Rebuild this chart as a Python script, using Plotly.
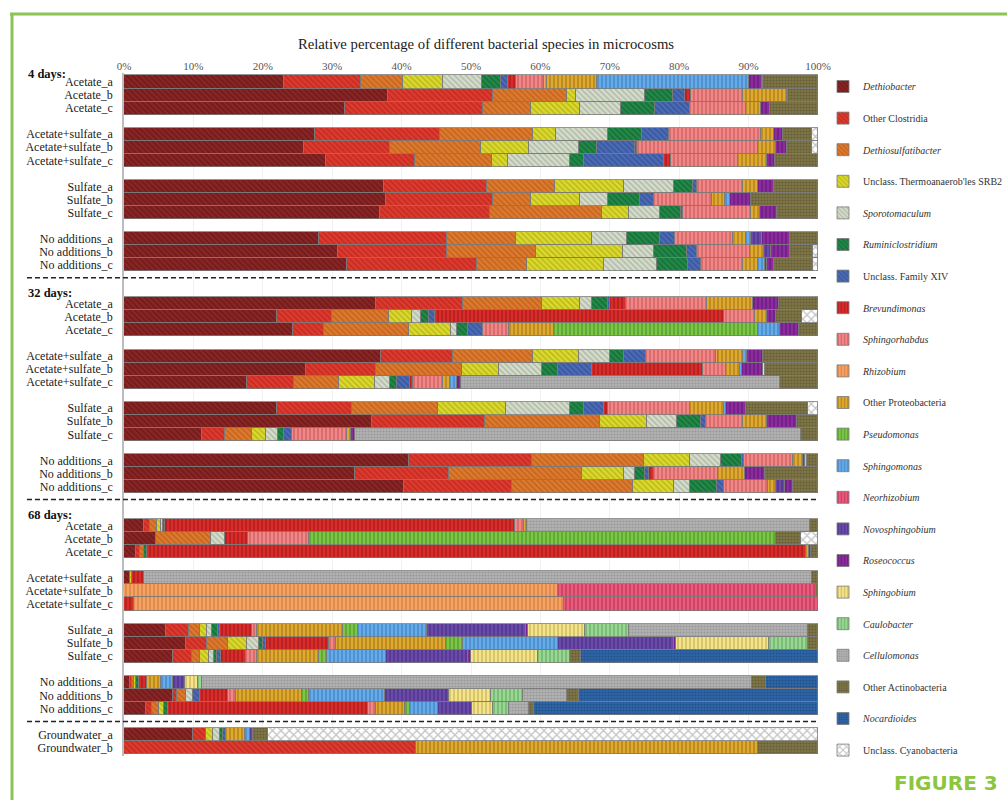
import plotly.graph_objects as go

# ---------------------------------------------------------------- data
row_labels = [
    "Acetate_a", "Acetate_b", "Acetate_c",
    "Acetate+sulfate_a", "Acetate+sulfate_b", "Acetate+sulfate_c",
    "Sulfate_a", "Sulfate_b", "Sulfate_c",
    "No additions_a", "No additions_b", "No additions_c",
    "Acetate_a", "Acetate_b", "Acetate_c",
    "Acetate+sulfate_a", "Acetate+sulfate_b", "Acetate+sulfate_c",
    "Sulfate_a", "Sulfate_b", "Sulfate_c",
    "No additions_a", "No additions_b", "No additions_c",
    "Acetate_a", "Acetate_b", "Acetate_c",
    "Acetate+sulfate_a", "Acetate+sulfate_b", "Acetate+sulfate_c",
    "Sulfate_a", "Sulfate_b", "Sulfate_c",
    "No additions_a", "No additions_b", "No additions_c",
    "Groundwater_a", "Groundwater_b",
]
section_headers = ["4 days:", "32 days:", "68 days:"]
percent_ticks = [0, 10, 20, 30, 40, 50, 60, 70, 80, 90, 100]

species_names = [
    "<i>Dethiobacter</i>", "Other Clostridia", "<i>Dethiosulfatibacter</i>",
    "Unclass. Thermoanaerob'les SRB2", "<i>Sporotomaculum</i>",
    "<i>Ruminiclostridium</i>", "Unclass. Family XIV", "<i>Brevundimonas</i>",
    "<i>Sphingorhabdus</i>", "<i>Rhizobium</i>", "Other Proteobacteria",
    "<i>Pseudomonas</i>", "<i>Sphingomonas</i>", "<i>Neorhizobium</i>",
    "<i>Novosphingobium</i>", "<i>Roseococcus</i>", "<i>Sphingobium</i>",
    "<i>Caulobacter</i>", "<i>Cellulomonas</i>", "Other Actinobacteria",
    "<i>Nocardioides</i>", "Unclass. Cyanobacteria",
]

# relative abundance (%) per row, in row_labels order
dethiobacter = [23.0, 38.1, 31.8, 27.5, 25.9, 29.1, 37.5, 37.8, 36.9, 28.1, 30.9, 32.2,
                36.3, 22.1, 24.3, 37.1, 26.2, 17.7, 22.1, 35.8, 11.3, 41.0, 33.3, 40.3,
                2.9, 4.6, 1.7, 0.8, 0, 0, 6.1, 9.0, 7.0, 0.8, 7.0, 3.2,
                10.0, 0]
other_clostridia = [11.1, 15.0, 19.9, 18.1, 12.4, 12.9, 14.8, 15.3, 15.9, 18.4, 15.6, 18.6,
                    12.5, 7.8, 4.5, 10.3, 10.1, 6.8, 10.7, 16.2, 3.3, 17.8, 13.5, 15.6,
                    0.9, 0, 0.6, 0, 0, 0, 3.2, 2.9, 2.8, 0.4, 0.7, 0.9,
                    1.8, 42.1]
dethiosulfatibacter = [6.1, 10.7, 6.9, 13.3, 13.1, 11.0, 9.8, 5.5, 16.1, 10.0, 12.9, 7.2,
                       11.4, 8.3, 12.3, 11.5, 12.4, 6.5, 12.4, 16.6, 3.9, 16.1, 19.2, 17.5,
                       1.0, 8.0, 0.6, 0, 0, 0, 1.6, 3.1, 1.2, 0.3, 1.2, 1.0,
                       0, 0]
srb2 = [5.7, 1.3, 7.1, 3.3, 7.0, 2.3, 10.0, 7.1, 3.9, 10.9, 12.5, 11.1,
        5.5, 3.3, 6.0, 6.7, 5.4, 5.2, 9.8, 6.8, 2.0, 6.6, 6.0, 5.8,
        0.6, 0, 0, 0.3, 0, 0, 1.0, 2.7, 1.3, 0.3, 0, 0.7,
        1.0, 0]
sporotomaculum = [5.7, 10.0, 5.9, 7.5, 7.2, 8.9, 7.2, 4.0, 4.4, 5.1, 4.5, 7.7,
                  1.8, 1.3, 0.9, 4.5, 6.1, 2.1, 9.2, 4.3, 1.7, 4.5, 1.6, 2.4,
                  0.2, 2.0, 0, 0, 0, 0, 0.8, 1.7, 0.7, 0, 1.1, 0,
                  1.1, 0]
ruminiclostridium = [2.7, 4.0, 4.9, 4.9, 2.6, 2.1, 2.7, 4.6, 3.1, 4.8, 4.7, 4.5,
                     2.3, 1.2, 1.5, 2.0, 2.3, 1.0, 2.1, 3.4, 0.8, 3.0, 1.5, 3.8,
                     0, 0, 0.4, 0, 0, 0, 0.9, 0.7, 0.4, 0.4, 0, 0.6,
                     0.3, 0]
family_xiv = [1.0, 1.8, 5.1, 4.0, 5.4, 11.5, 0.6, 2.0, 0.3, 2.1, 1.5, 1.8,
              0.3, 0.8, 2.2, 3.1, 4.9, 1.9, 2.9, 0.8, 1.2, 0.3, 0.5, 1.1,
              0.3, 0, 0, 0, 0, 0, 0.3, 0.4, 0.6, 0, 0.9, 0,
              0.5, 0]
brevundimonas = [1.2, 0.8, 0, 0, 0.3, 1.0, 0, 0, 0, 0, 0, 0,
                 2.2, 41.6, 0, 0, 16.0, 0.4, 0.5, 0, 0, 0, 0.8, 0,
                 50.4, 3.2, 95.0, 1.8, 0, 1.4, 4.5, 9.1, 3.6, 1.1, 4.1, 28.8,
                 0, 0]
sphingorhabdus = [4.0, 7.5, 8.0, 13.2, 17.5, 9.7, 6.6, 8.4, 9.7, 8.3, 7.6, 6.1,
                  11.7, 4.5, 3.8, 10.1, 3.3, 4.4, 11.9, 5.3, 8.0, 7.1, 9.2, 6.3,
                  1.4, 8.9, 0, 0, 0, 0, 0.8, 0.9, 1.5, 0, 1.2, 1.1,
                  0, 0]
rhizobium = [0.4, 0, 0, 0, 0, 0, 0, 0, 0, 0, 0, 0,
             0, 0, 0, 0.3, 0, 0, 0, 0, 0, 0, 0, 0,
             0, 0, 0, 0, 62.5, 62.0, 0, 0, 0, 0, 0, 0,
             0, 0]
other_proteobacteria = [7.3, 6.3, 2.2, 1.9, 2.6, 4.1, 2.1, 1.9, 1.4, 1.9, 2.0, 2.2,
                        6.6, 1.7, 6.4, 3.6, 2.0, 1.0, 4.8, 3.5, 0.5, 1.5, 3.9, 1.2,
                        0.3, 0, 0.4, 0, 0, 0, 12.3, 15.9, 9.0, 2.1, 9.4, 4.2,
                        2.8, 49.2]
pseudomonas = [0, 0, 0, 0, 0, 0, 0, 0, 0, 0, 0, 0,
               0, 0, 29.5, 0, 0, 0, 0, 0, 0, 0, 0, 0,
               0, 67.3, 0, 0, 0, 0, 2.2, 2.4, 1.2, 0, 1.0, 0.7,
               0, 0]
sphingomonas = [21.8, 0, 0, 0, 0, 0, 0, 0.7, 0, 0.8, 0, 0.9,
                0, 0, 3.1, 0.5, 0.4, 1.0, 0.4, 0, 0, 0, 0, 0,
                0, 0, 0, 0, 0, 0, 9.9, 13.7, 8.5, 1.6, 11.0, 4.0,
                0.6, 0]
neorhizobium = [0, 0, 0, 0, 0, 0, 0, 0, 0, 0, 0, 0,
                0, 0, 0, 0, 0, 0, 0, 0, 0, 0, 0, 0,
                0, 0, 0, 0, 37.2, 36.6, 0, 0, 0, 0, 0, 0,
                0, 0]
novosphingobium = [0, 0, 0, 0, 0, 0, 0, 0, 0, 1.5, 1.0, 0.4,
                   0, 0, 0, 0, 0, 0, 0, 0, 0, 0, 0, 1.2,
                   0, 0, 0.3, 0, 0, 0, 14.3, 16.8, 11.7, 1.8, 9.3, 4.9,
                   0.5, 0]
roseococcus = [1.9, 0, 1.3, 1.2, 1.6, 1.2, 2.3, 3.1, 2.4, 4.1, 2.8, 0.9,
               3.8, 1.4, 2.8, 2.4, 3.0, 0.6, 2.8, 4.3, 0.6, 0.2, 2.9, 1.2,
               0, 0, 0, 0, 0, 0, 0.3, 0.2, 0.5, 0, 0, 0,
               0, 0]
sphingobium = [0.2, 0.2, 0, 0, 0, 0, 0, 0, 0, 0, 0, 0,
               0, 0, 0, 0, 0.3, 0, 0, 0, 0, 0.3, 0, 0,
               0, 0, 0, 0, 0, 0, 8.2, 13.5, 9.7, 1.9, 6.0, 3.0,
               0, 0]
caulobacter = [0, 0, 0, 0, 0, 0, 0, 0, 0, 0, 0, 0,
               0, 0, 0, 0, 0, 0, 0, 0, 0, 0, 0, 0,
               0, 0, 0, 0, 0, 0, 6.3, 5.5, 4.6, 0.6, 4.6, 2.4,
               0, 0]
cellulomonas = [0, 0, 0, 0, 0, 0, 0, 0, 0, 0, 0, 0,
                0, 0, 0, 0, 0, 45.9, 0, 0, 64.2, 0, 0, 0,
                40.8, 0, 0, 96.2, 0, 0, 25.9, 0, 0, 79.2, 6.4, 2.9,
                0, 0]
other_actinobacteria = [7.9, 4.3, 6.9, 4.3, 3.6, 6.2, 6.4, 9.6, 5.9, 4.0, 3.3, 5.7,
                        5.6, 3.7, 2.7, 7.9, 7.6, 5.5, 9.0, 3.0, 2.5, 1.6, 7.6, 3.6,
                        1.2, 3.6, 1.0, 0.9, 0.3, 0, 1.4, 1.5, 1.5, 2.0, 1.6, 0.7,
                        2.2, 8.7]
nocardioides = [0, 0, 0, 0, 0, 0, 0, 0, 0, 0, 0, 0,
                0, 0, 0, 0, 0, 0, 0, 0, 0, 0, 0, 0,
                0, 0, 0, 0, 0, 0, 0, 0, 34.2, 7.5, 34.5, 40.9,
                0, 0]
cyanobacteria = [0, 0, 0, 0.8, 0.8, 0, 0, 0, 0, 0, 0.7, 0.7,
                 0, 2.3, 0, 0, 0, 0, 1.4, 0, 0, 0, 0, 0,
                 0, 2.4, 0, 0, 0, 0, 0, 0, 0, 0, 0, 0,
                 79.2, 0]

species_values = [
    dethiobacter, other_clostridia, dethiosulfatibacter, srb2, sporotomaculum,
    ruminiclostridium, family_xiv, brevundimonas, sphingorhabdus, rhizobium,
    other_proteobacteria, pseudomonas, sphingomonas, neorhizobium,
    novosphingobium, roseococcus, sphingobium, caulobacter, cellulomonas,
    other_actinobacteria, nocardioides, cyanobacteria,
]

# ---------------------------------------------------------------- styling
fill_colors = [
    "#8a2525", "#df3a2e", "#df7a2c", "#dcda2c", "#d6ddcc", "#218a48", "#4a6cb6",
    "#db2c2c", "#f38686", "#f8a262", "#e0aa2e", "#7cc846", "#66acea", "#ec5a7c",
    "#6a4aaa", "#8c2c9e", "#f6e48a", "#9ad892", "#b2b2b2", "#807648", "#2e66a8",
    "#ffffff",
]
stripe_colors = [
    "#561010", "#a41e18", "#a4501a", "#9a9810", "#8c9a82", "#0f5029", "#2a4080",
    "#8a1414", "#b04848", "#b86a32", "#8a6010", "#3e7a20", "#2e6aa8", "#a02848",
    "#3a2470", "#50106a", "#a89840", "#509058", "#7e7e7e", "#4a4228", "#173c6c",
    "#8c8c8c",
]
fill_shapes = ["\\"] * 7 + ["|"] * 11 + ["."] * 3 + ["x"]
shape_sizes = [4] * 7 + [4] * 11 + [3] * 3 + [6]

W, H = 1007, 800
ML, MR, MT, MB = 124, 189, 73, 44
PW, PH = W - ML - MR, H - MT - MB


def paper_x(px):
    return (px - ML) / PW


def paper_y(py):
    return 1 - (py - MT) / PH


# row slots: three treatment sections of four triplets, then groundwater
row_slots = []
for section in range(3):
    for group in range(4):
        for rep in range(3):
            row_slots.append(section * 17 + group * 4 + rep)
row_slots += [50, 51]
separator_slots = [15, 32, 49]
header_slots = [-0.58, 16.15, 33.15]

serif = "Liberation Serif"

fig = go.Figure()
for i, (name, vals) in enumerate(zip(species_names, species_values)):
    fig.add_trace(go.Bar(
        x=[v if v else None for v in vals],
        y=row_slots,
        orientation="h",
        name=name,
        legendgroup=f"g{i}",
        width=1.0,
        marker=dict(
            color=fill_colors[i],
            line=dict(color="#7a7a7a", width=0.8),
            pattern=dict(shape=fill_shapes[i], fillmode="overlay",
                         fgcolor=stripe_colors[i], bgcolor=fill_colors[i],
                         size=shape_sizes[i], solidity=0.4),
        ),
        hoverinfo="skip",
    ))

shapes = []
for s in separator_slots:
    shapes.append(dict(type="line", xref="paper", yref="y",
                       x0=paper_x(27), x1=1.0, y0=s, y1=s,
                       line=dict(color="#222222", width=1.5, dash="5px,3px")))
# green frame (top and left edges)
frame = "#8cc456"
shapes.append(dict(type="line", xref="paper", yref="paper",
                   x0=paper_x(10), x1=paper_x(1007), y0=paper_y(14), y1=paper_y(14),
                   line=dict(color=frame, width=3)))
shapes.append(dict(type="line", xref="paper", yref="paper",
                   x0=paper_x(12), x1=paper_x(12), y0=paper_y(13), y1=paper_y(800),
                   line=dict(color=frame, width=3)))

annotations = []
for text, slot in zip(section_headers, header_slots):
    annotations.append(dict(text=f"<b>{text}</b>", xref="paper", yref="y",
                            x=paper_x(26), y=slot, xanchor="left", yanchor="middle",
                            showarrow=False,
                            font=dict(family=serif, size=12.5, color="#111111")))
annotations.append(dict(text="<b>FIGURE 3</b>", xref="paper", yref="paper",
                        x=paper_x(1000), y=paper_y(783), xanchor="right",
                        yanchor="middle", showarrow=False,
                        font=dict(family="DejaVu Sans", size=20, color="#8cc63f")))

fig.update_layout(
    width=W, height=H,
    margin=dict(l=ML, r=MR, t=MT, b=MB, pad=0, autoexpand=False),
    paper_bgcolor="white", plot_bgcolor="white",
    barmode="stack", bargap=0,
    title=dict(text="Relative percentage of different bacterial species in microcosms",
               x=486 / W, xanchor="center", y=1 - 44 / H, yanchor="middle",
               font=dict(family=serif, size=14.7, color="#1a1a1a")),
    xaxis=dict(side="top", range=[0, 100], tickvals=percent_ticks,
               ticktext=[f"{t}%" for t in percent_ticks],
               tickfont=dict(family=serif, size=11, color="#555555"),
               showgrid=True, gridcolor="#f0f0f0", gridwidth=1,
               zeroline=False, showline=False, ticks=""),
    yaxis=dict(range=[51.65, -0.69], tickvals=row_slots, ticktext=row_labels,
               tickfont=dict(family=serif, size=12, color="#1a1a1a"),
               showgrid=False, zeroline=False, showline=True,
               linecolor="#bdbdbd", linewidth=1.5, ticks="", ticklabelstandoff=7),
    legend=dict(x=paper_x(823), xanchor="left", y=paper_y(72), yanchor="top",
                traceorder="grouped", tracegroupgap=12.6, maxheight=790,
                font=dict(family=serif, size=10, color="#333333"),
                bgcolor="rgba(0,0,0,0)"),
    shapes=shapes,
    annotations=annotations,
    showlegend=True,
)

fig.write_html("out.html")
